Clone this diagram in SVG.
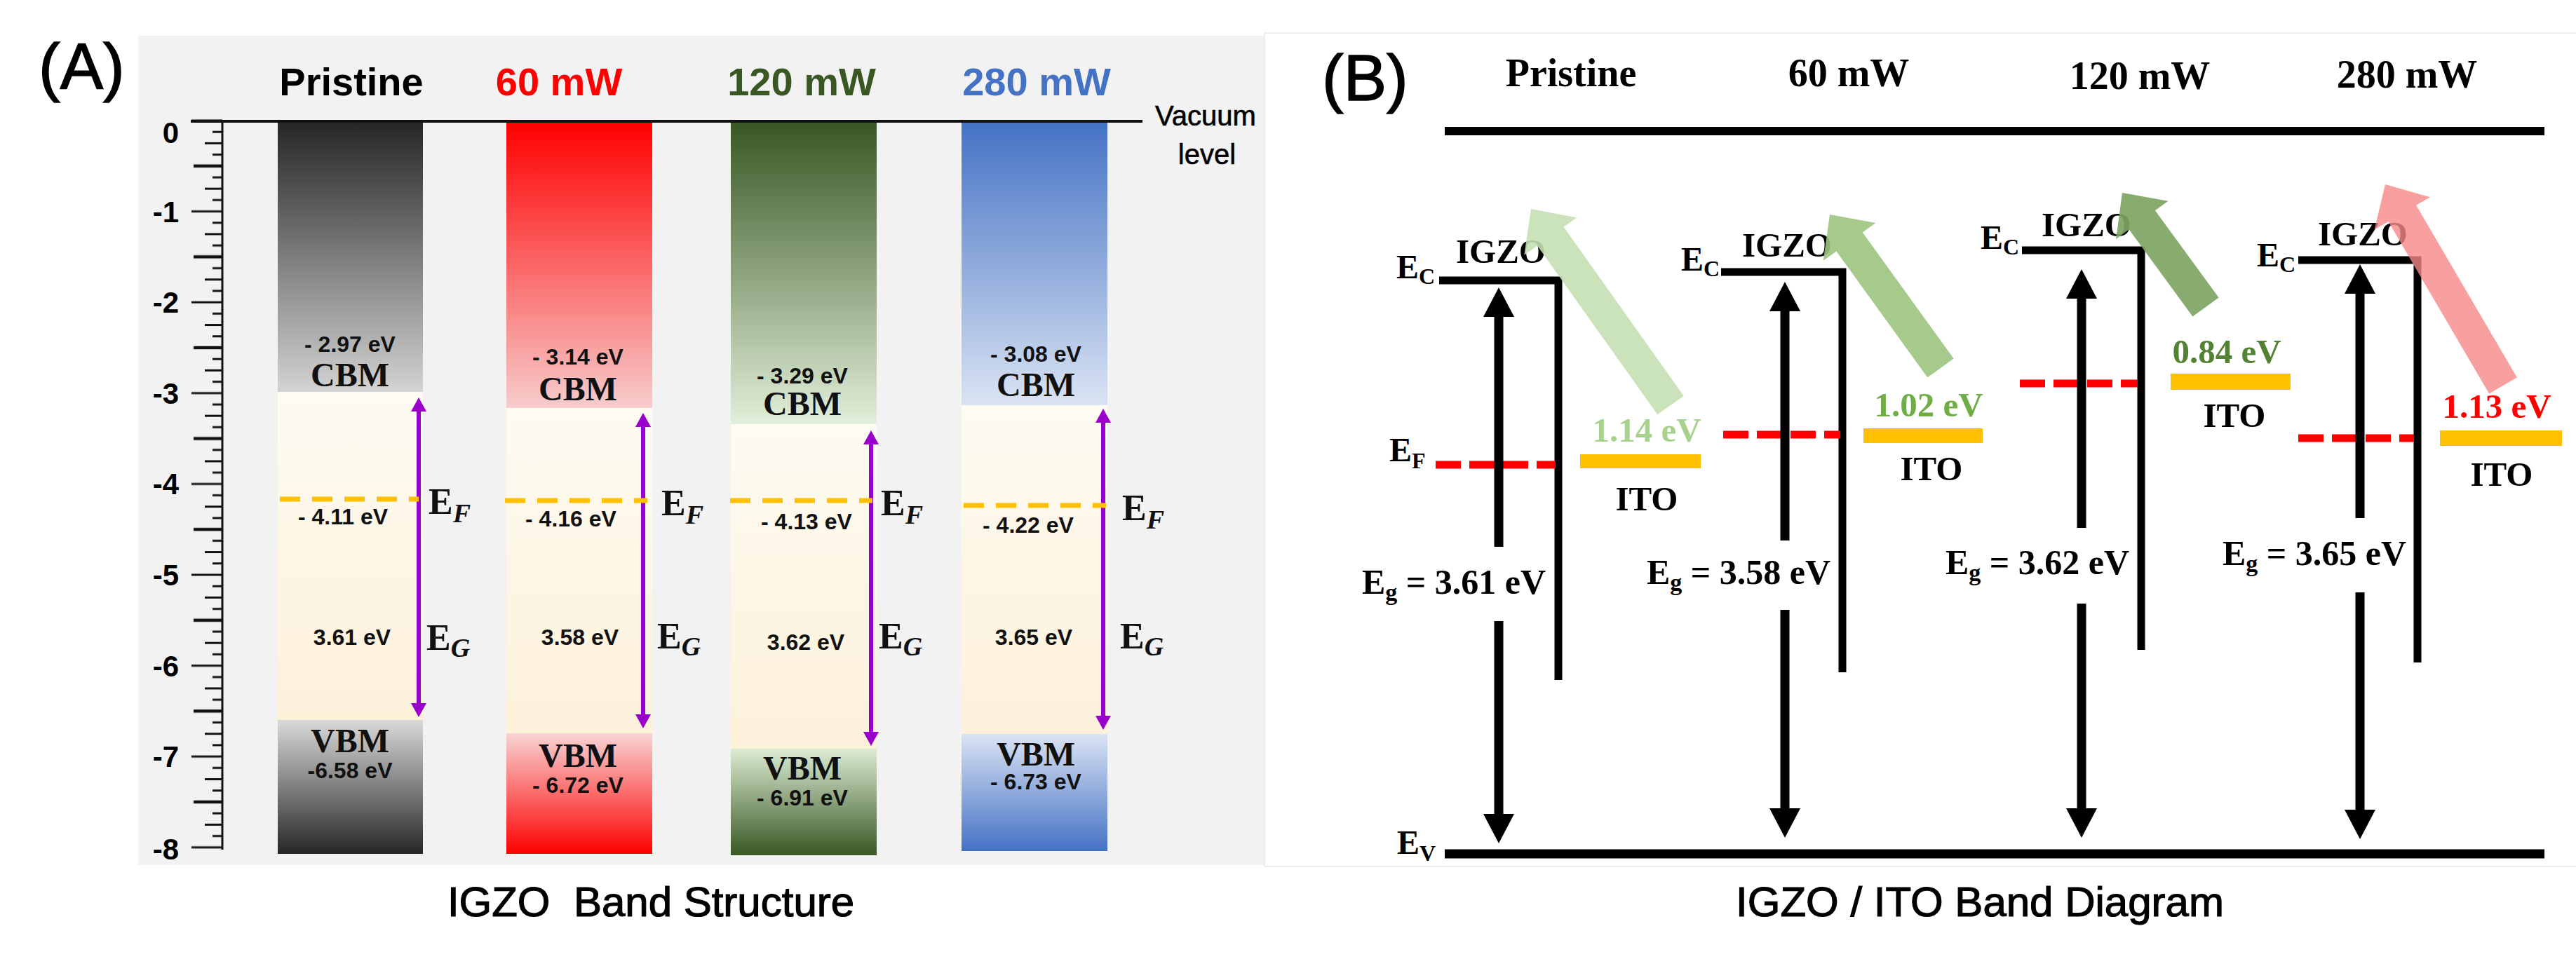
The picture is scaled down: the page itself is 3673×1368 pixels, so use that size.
<svg xmlns="http://www.w3.org/2000/svg" width="3673" height="1368" viewBox="0 0 3673 1368">
<style>
.hA{font-family:"Liberation Sans",Arial,sans-serif;font-weight:bold;font-size:56px;text-anchor:middle}
.tk{font-family:"Liberation Sans",Arial,sans-serif;font-weight:bold;font-size:42px;text-anchor:end}
.val{font-family:"Liberation Sans",Arial,sans-serif;font-weight:bold;font-size:32px;text-anchor:middle;fill:#111}
.bnd{font-family:"Liberation Serif","Times New Roman",serif;font-weight:bold;font-size:48px;text-anchor:middle;fill:#111}
.sym{font-family:"Liberation Serif","Times New Roman",serif;font-weight:bold;font-size:52px;fill:#111}
.sub{font-style:italic;font-size:38px}
.panel{font-family:"Liberation Sans",Arial,sans-serif;font-size:92px;stroke:#000;stroke-width:1.5}
.title{font-family:"Liberation Sans",Arial,sans-serif;font-size:60px;text-anchor:middle;white-space:pre;stroke:#000;stroke-width:1.2}
.vac{font-family:"Liberation Sans",Arial,sans-serif;font-size:40px;text-anchor:middle;stroke:#000;stroke-width:0.6}
.hB{font-family:"Liberation Serif","Times New Roman",serif;font-weight:bold;font-size:56px;text-anchor:middle}
.tB{font-family:"Liberation Serif","Times New Roman",serif;font-weight:bold;font-size:49px}
.eB{font-family:"Liberation Serif","Times New Roman",serif;font-weight:bold;font-size:48px}
.eg{font-family:"Liberation Serif","Times New Roman",serif;font-weight:bold;font-size:50px}
.ef{stroke:#ffc000;stroke-width:7;stroke-dasharray:29 17;fill:none}
.pa{stroke:#9900cc;stroke-width:6;fill:none;marker-start:url(#pArr);marker-end:url(#pArr)}
.ba{stroke:#000;stroke-width:13;fill:none;marker-end:url(#bArr)}
.ec{stroke:#000;stroke-width:11;fill:none;stroke-linejoin:miter}
.rd{stroke:#ff0000;stroke-width:11;stroke-dasharray:36 12;fill:none}
.ito{fill:#ffc000}
.gap{fill:url(#gGap)}
</style>
<defs>
<linearGradient id="gGap" x1="0" y1="0" x2="0" y2="1"><stop offset="0" stop-color="#fdfbf2"/><stop offset="1" stop-color="#fdf1da"/></linearGradient>
<linearGradient id="gPt" x1="0" y1="0" x2="0" y2="1"><stop offset="0" stop-color="#262626"/><stop offset="1" stop-color="#d3d3d3"/></linearGradient>
<linearGradient id="gPb" x1="0" y1="0" x2="0" y2="1"><stop offset="0" stop-color="#d9d9d9"/><stop offset="1" stop-color="#262626"/></linearGradient>
<linearGradient id="g60t" x1="0" y1="0" x2="0" y2="1"><stop offset="0" stop-color="#ff0000"/><stop offset="1" stop-color="#f7cccc"/></linearGradient>
<linearGradient id="g60b" x1="0" y1="0" x2="0" y2="1"><stop offset="0" stop-color="#f8d4d4"/><stop offset="1" stop-color="#ff0000"/></linearGradient>
<linearGradient id="g120t" x1="0" y1="0" x2="0" y2="1"><stop offset="0" stop-color="#385723"/><stop offset="1" stop-color="#e2efda"/></linearGradient>
<linearGradient id="g120b" x1="0" y1="0" x2="0" y2="1"><stop offset="0" stop-color="#dcecd3"/><stop offset="1" stop-color="#385723"/></linearGradient>
<linearGradient id="g280t" x1="0" y1="0" x2="0" y2="1"><stop offset="0" stop-color="#4472c4"/><stop offset="1" stop-color="#dae3f3"/></linearGradient>
<linearGradient id="g280b" x1="0" y1="0" x2="0" y2="1"><stop offset="0" stop-color="#dae3f3"/><stop offset="1" stop-color="#4472c4"/></linearGradient>
<pattern id="ruler" x="260" y="164" width="60" height="129.6" patternUnits="userSpaceOnUse">
<path d="M13,8H57M43,24.2H57M32,40.4H57M43,56.6H57M43,89H57M32,105.2H57M43,121.4H57" stroke="#111" stroke-width="3"/>
<path d="M16,72.8H57" stroke="#111" stroke-width="4.5"/>
</pattern>
<marker id="pArr" markerUnits="userSpaceOnUse" markerWidth="22" markerHeight="22" refX="0" refY="11" orient="auto-start-reverse"><path d="M0,0L20,11L0,22z" fill="#9900cc"/></marker>
<marker id="bArr" markerUnits="userSpaceOnUse" markerWidth="44" markerHeight="44" refX="0" refY="22" orient="auto"><path d="M0,0L42,22L0,44z" fill="#000"/></marker>
</defs>
<rect width="3673" height="1368" fill="#fff"/>

<!-- Panel A -->
<g id="panelA">
<rect x="197" y="51" width="1606" height="1183" fill="#f2f2f2"/>
<text class="panel" x="55" y="127">(A)</text>
<text class="hA" x="501" y="136">Pristine</text>
<text class="hA" x="797" y="136" fill="#ff0000">60 mW</text>
<text class="hA" x="1143" y="136" fill="#385723">120 mW</text>
<text class="hA" x="1478" y="136" fill="#4472c4">280 mW</text>
<text class="vac" x="1719" y="179">Vacuum</text>
<text class="vac" x="1721" y="234">level</text>
<text class="title" x="928" y="1307" xml:space="preserve">IGZO  Band Structure</text>
</g>

<g id="axisA">
<rect x="260" y="164" width="60" height="1050" fill="url(#ruler)"/>
<line x1="317" y1="172" x2="317" y2="1212" stroke="#111" stroke-width="3"/>
<text class="tk" x="255" y="204">0</text>
<text class="tk" x="255" y="317">-1</text>
<text class="tk" x="255" y="446">-2</text>
<text class="tk" x="255" y="576">-3</text>
<text class="tk" x="255" y="705">-4</text>
<text class="tk" x="255" y="835">-5</text>
<text class="tk" x="255" y="965">-6</text>
<text class="tk" x="255" y="1094">-7</text>
<text class="tk" x="255" y="1226">-8</text>
</g>

<g id="barA-pristine">
<rect x="396" y="174" width="207" height="385" fill="url(#gPt)"/>
<rect class="gap" x="396" y="559" width="207" height="468"/>
<rect x="396" y="1027" width="207" height="191" fill="url(#gPb)"/>
<path class="pa" d="M597,587V1003"/>
<path class="ef" d="M399,712H597"/>
<text class="val" x="499" y="502">- 2.97 eV</text>
<text class="bnd" x="499" y="551">CBM</text>
<text class="val" x="489" y="748">- 4.11 eV</text>
<text class="val" x="502" y="920">3.61 eV</text>
<text class="bnd" x="499" y="1073">VBM</text>
<text class="val" x="499" y="1110">-6.58 eV</text>
<text class="sym" x="611" y="733">E<tspan class="sub" dy="12">F</tspan></text>
<text class="sym" x="608" y="927">E<tspan class="sub" dy="10">G</tspan></text>
</g>

<g id="barA-60">
<rect x="722" y="174" width="208" height="408" fill="url(#g60t)"/>
<rect class="gap" x="722" y="582" width="208" height="464"/>
<rect x="722" y="1046" width="208" height="172" fill="url(#g60b)"/>
<path class="pa" d="M917,609V1019"/>
<path class="ef" d="M720,714H923"/>
<text class="val" x="824" y="520">- 3.14 eV</text>
<text class="bnd" x="824" y="571">CBM</text>
<text class="val" x="814" y="751">- 4.16 eV</text>
<text class="val" x="827" y="920">3.58 eV</text>
<text class="bnd" x="824" y="1094">VBM</text>
<text class="val" x="824" y="1131">- 6.72 eV</text>
<text class="sym" x="943" y="735">E<tspan class="sub" dy="12">F</tspan></text>
<text class="sym" x="937" y="925">E<tspan class="sub" dy="10">G</tspan></text>
</g>

<g id="barA-120">
<rect x="1042" y="174" width="208" height="431" fill="url(#g120t)"/>
<rect class="gap" x="1042" y="605" width="208" height="463"/>
<rect x="1042" y="1068" width="208" height="152" fill="url(#g120b)"/>
<path class="pa" d="M1242,634V1044"/>
<path class="ef" d="M1041,714H1244"/>
<text class="val" x="1144" y="547">- 3.29 eV</text>
<text class="bnd" x="1144" y="592">CBM</text>
<text class="val" x="1150" y="755">- 4.13 eV</text>
<text class="val" x="1149" y="927">3.62 eV</text>
<text class="bnd" x="1144" y="1112">VBM</text>
<text class="val" x="1144" y="1149">- 6.91 eV</text>
<text class="sym" x="1256" y="735">E<tspan class="sub" dy="12">F</tspan></text>
<text class="sym" x="1253" y="925">E<tspan class="sub" dy="10">G</tspan></text>
</g>

<g id="barA-280">
<rect x="1371" y="174" width="208" height="404" fill="url(#g280t)"/>
<rect class="gap" x="1371" y="578" width="208" height="469"/>
<rect x="1371" y="1047" width="208" height="167" fill="url(#g280b)"/>
<path class="pa" d="M1573,603V1021"/>
<path class="ef" d="M1374,721H1577"/>
<text class="val" x="1477" y="516">- 3.08 eV</text>
<text class="bnd" x="1477" y="565">CBM</text>
<text class="val" x="1466" y="760">- 4.22 eV</text>
<text class="val" x="1474" y="920">3.65 eV</text>
<text class="bnd" x="1477" y="1092">VBM</text>
<text class="val" x="1477" y="1126">- 6.73 eV</text>
<text class="sym" x="1600" y="742">E<tspan class="sub" dy="12">F</tspan></text>
<text class="sym" x="1597" y="925">E<tspan class="sub" dy="10">G</tspan></text>
</g>
<line id="vacuum" x1="272" y1="173" x2="1629" y2="173" stroke="#111" stroke-width="4"/>

<!-- Panel B -->
<g id="panelB">
<rect x="1803" y="47" width="1880" height="1189" fill="#fff" stroke="#eeeeee" stroke-width="2"/>
<text class="panel" x="1885" y="143">(B)</text>
<text class="hB" x="2240" y="123">Pristine</text>
<text class="hB" x="2636" y="123">60 mW</text>
<text class="hB" x="3051" y="127">120 mW</text>
<text class="hB" x="3432" y="125">280 mW</text>
<text class="title" x="2823" y="1307">IGZO / ITO Band Diagram</text>
<line x1="2060" y1="187" x2="3628" y2="187" stroke="#000" stroke-width="12"/>
<line x1="2060" y1="1218" x2="3628" y2="1218" stroke="#000" stroke-width="13"/>
<text class="eB" x="1992" y="1218">E<tspan dy="10" font-size="32">V</tspan></text>
<text class="eB" x="1981" y="658">E<tspan dy="10" font-size="32">F</tspan></text>
</g>

<g id="colB-pristine">
<text class="eB" x="1991" y="397">E<tspan dy="8" font-size="32">C</tspan></text>
<text class="tB" x="2076" y="375">IGZO</text>
<path class="ec" d="M2052,400H2222V970"/>
<path class="rd" d="M2047,663H2218"/>
<rect class="ito" x="2253" y="648" width="172" height="20"/>
<text class="tB" x="2348" y="630" text-anchor="middle" fill="#a9d18e">1.14 eV</text>
<text class="tB" x="2348" y="728" text-anchor="middle">ITO</text>
<text class="eg" x="1942" y="847">E<tspan dy="9" font-size="34">g</tspan><tspan dy="-9"> = 3.61 eV</tspan></text>
<polygon points="2400.75,564.68 2229.56,323.80 2248.30,310.47 2183,298 2173.32,363.77 2192.06,350.44 2363.25,591.32" fill="#c5e0b4" opacity="0.9"/>
</g>

<g id="colB-60">
<text class="eB" x="2397" y="386">E<tspan dy="8" font-size="32">C</tspan></text>
<text class="tB" x="2484" y="366">IGZO</text>
<path class="ec" d="M2454,388H2627V959"/>
<path class="rd" d="M2457,620H2624"/>
<rect class="ito" x="2657" y="611" width="170" height="21"/>
<text class="tB" x="2750" y="594" text-anchor="middle" fill="#70ad47">1.02 eV</text>
<text class="tB" x="2754" y="685" text-anchor="middle">ITO</text>
<text class="eg" x="2348" y="833">E<tspan dy="9" font-size="34">g</tspan><tspan dy="-9"> = 3.58 eV</tspan></text>
<polygon points="2785.65,511.54 2655.73,331.47 2674.39,318.02 2609,306 2599.77,371.84 2618.43,358.39 2748.35,538.46" fill="#9cc47f" opacity="0.9"/>
</g>

<g id="colB-120">
<text class="eB" x="2824" y="355">E<tspan dy="8" font-size="32">C</tspan></text>
<text class="tB" x="2911" y="337">IGZO</text>
<path class="ec" d="M2883,357H3053V927"/>
<path class="rd" d="M2880,547H3048"/>
<rect class="ito" x="3095" y="533" width="171" height="23"/>
<text class="tB" x="3175" y="518" text-anchor="middle" fill="#548235">0.84 eV</text>
<text class="tB" x="3186" y="609" text-anchor="middle">ITO</text>
<text class="eg" x="2774" y="819">E<tspan dy="9" font-size="34">g</tspan><tspan dy="-9"> = 3.62 eV</tspan></text>
<polygon points="3163.58,424.44 3072.89,300.21 3091.46,286.64 3026,275 3017.16,340.90 3035.73,327.33 3126.42,451.56" fill="#7ea563" opacity="0.92"/>
</g>

<g id="colB-280">
<text class="eB" x="3218" y="380">E<tspan dy="8" font-size="32">C</tspan></text>
<text class="tB" x="3305" y="350">IGZO</text>
<path class="ec" d="M3277,371H3447V945"/>
<path class="rd" d="M3277,625H3442"/>
<rect class="ito" x="3479" y="614" width="174" height="22"/>
<text class="tB" x="3560" y="596" text-anchor="middle" fill="#ff0000">1.13 eV</text>
<text class="tB" x="3567" y="693" text-anchor="middle">ITO</text>
<text class="eg" x="3169" y="806">E<tspan dy="9" font-size="34">g</tspan><tspan dy="-9"> = 3.65 eV</tspan></text>
<polygon points="3588.85,538.38 3445.10,292.80 3464.94,281.19 3401,263 3385.56,327.65 3405.40,316.04 3549.15,561.62" fill="#f68888" opacity="0.8"/>
</g>

<g id="connectors">
<path class="ba" d="M2137,780V452"/>
<path class="ba" d="M2137,886V1161"/>
<path class="ba" d="M2545,771V444"/>
<path class="ba" d="M2545,870V1153"/>
<path class="ba" d="M2968,753V426"/>
<path class="ba" d="M2968,861V1153"/>
<path class="ba" d="M3365,739V419"/>
<path class="ba" d="M3365,845V1155"/>
</g>
</svg>
